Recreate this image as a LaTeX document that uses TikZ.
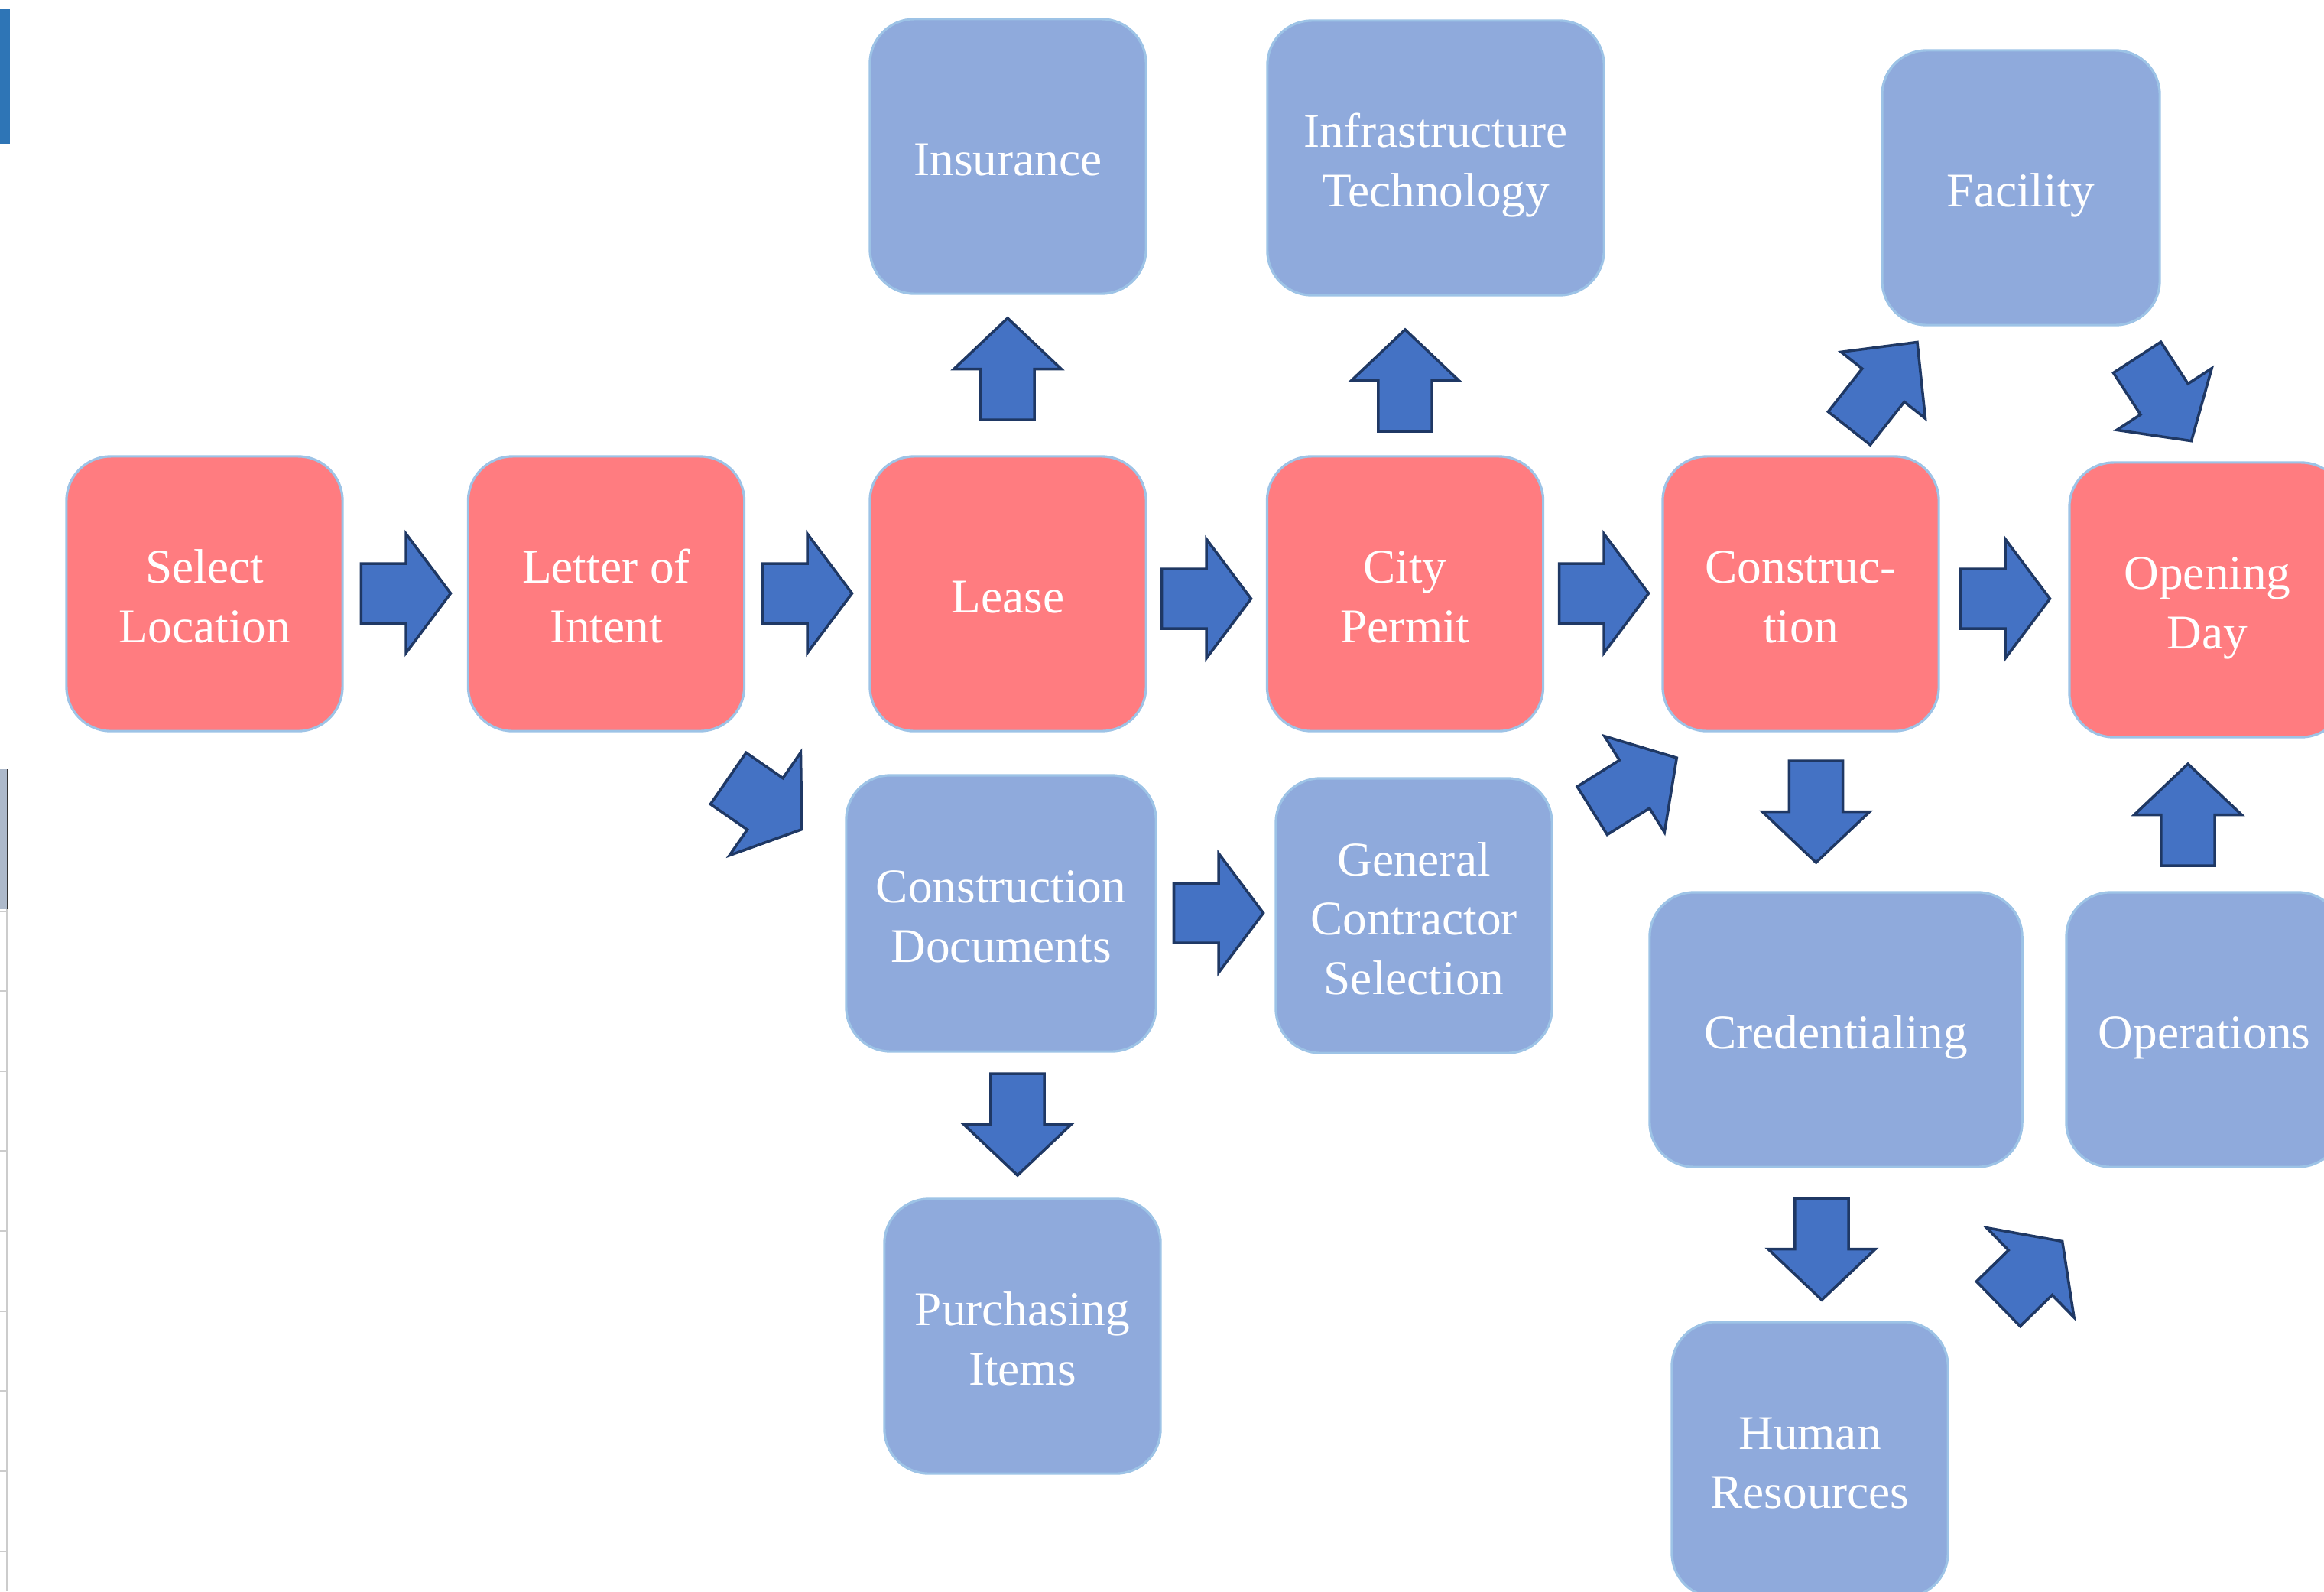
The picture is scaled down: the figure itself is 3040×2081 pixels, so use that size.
\documentclass[tikz,border=0pt]{standalone}
\usepackage{fontspec}
\setmainfont{Liberation Serif}
\usetikzlibrary{positioning}
\definecolor{stepred}{HTML}{FF7C80}
\definecolor{subblue}{HTML}{8FAADC}
\definecolor{rimblue}{HTML}{9DC3E6}
\definecolor{arrowfill}{HTML}{4472C4}
\definecolor{arrowrim}{HTML}{1F3864}
\definecolor{barblue}{HTML}{2E75B6}
\definecolor{bargrey}{HTML}{ADB9CA}
\tikzset{
	x=0.01cm, y=-0.01cm,
	box/.style={draw=rimblue, line width=0.9pt, rounded corners=0.58cm, text=white, align=center,
		inner sep=0pt, minimum width=3.61cm, minimum height=3.59cm, font=\fontsize{18}{22}\selectfont,
		text height=18.3pt, text depth=4pt},
	twolines/.style={text height=40.3pt},
	threelines/.style={text height=62.3pt},
	mainbox/.style={box, fill=stepred},
	sidebox/.style={box, fill=subblue},
	blockshape/.style={draw=arrowrim, fill=arrowfill, line width=1pt, line join=miter}
}
% block arrow: centre, angle, length factor, width factor
\newcommand{\blockarrow}[4]{
	\draw[blockshape, shift={#1}, rotate=#2, xscale=#3, yscale=#4]
		(-66.5,39) -- (0,39) -- (0,78) -- (66.5,0) -- (0,-78) -- (0,-39) -- (-66.5,-39) -- cycle;}

\begin{document}
\begin{tikzpicture}
	\useasboundingbox (0,0) rectangle (3040,2081);
	\clip (0,0) rectangle (3040,2081);

	% screen leftovers at the left edge
	\fill[barblue] (0,12) rectangle (13,188);
	\fill[bargrey] (0,1006) rectangle (10,1189);
	\draw[black!80, line width=0.8pt] (10,1006) -- (10,1189);
	\draw[gray!40, line width=0.5pt] (9,1189) -- (9,2081);
	\foreach \y in {1192,1296,1401,1505,1610,1715,1819,1924,2029}
		\draw[gray!40, line width=0.5pt] (0,\y) -- (9,\y);

	% main steps
	\node[mainbox, twolines] (sel) at (267.5,776.5) {Select\\Location};
	\node[mainbox, twolines] (loi) at (793,776.5) {Letter of\\Intent};
	\node[mainbox] (lease) at (1318.5,776.5) {Lease};
	\node[mainbox, twolines] (permit) at (1838,776.5) {City\\Permit};
	\node[mainbox, twolines] (constr) at (2355.5,776.5) {Construc-\\tion};
	\node[mainbox, twolines] (open) at (2887.5,784.5) {Opening\\Day};

	% side tasks
	\node[sidebox] (ins) at (1318.5,204.5) {Insurance};
	\node[sidebox, twolines, minimum width=4.4cm] (infra) at (1878,206.5) {Infrastructure\\Technology};
	\node[sidebox, minimum width=3.63cm] (fac) at (2643.5,245.5) {Facility};
	\node[sidebox, twolines, minimum width=4.05cm, minimum height=3.61cm] (cdocs) at (1309.5,1194.5) {Construction\\Documents};
	\node[sidebox, threelines] (gcsel) at (1849.5,1197.5) {General\\Contractor\\Selection};
	\node[sidebox, minimum width=4.87cm] (cred) at (2401.5,1346.5) {Credentialing};
	\node[sidebox] (ops) at (2883.5,1346.5) {Operations};
	\node[sidebox, twolines] (purch) at (1337.5,1747.5) {Purchasing\\Items};
	\node[sidebox, twolines, minimum height=3.6cm] (hr) at (2367.5,1909) {Human\\Resources};

	% arrows along the main row
	\blockarrow{(531,776)}{0}{0.88}{1}
	\blockarrow{(1056,776)}{0}{0.88}{1}
	\blockarrow{(1578,783)}{0}{0.88}{1}
	\blockarrow{(2098,776)}{0}{0.88}{1}
	\blockarrow{(2623,783)}{0}{0.88}{1}
	\blockarrow{(1594,1194)}{0}{0.88}{1}

	% arrows up and down
	\blockarrow{(1318,482.5)}{90}{1}{0.9}
	\blockarrow{(1838,497.5)}{90}{1}{0.9}
	\blockarrow{(2862,1065.5)}{90}{1}{0.9}
	\blockarrow{(2375.5,1061.5)}{-90}{1}{0.9}
	\blockarrow{(2383,1633.5)}{-90}{1}{0.9}
	\blockarrow{(1331,1470.5)}{-90}{1}{0.9}

	% slanted arrows
	\blockarrow{(1000.8,1051.3)}{-34.7}{0.88}{1.05}
	\blockarrow{(2138,1025.6)}{32}{0.98}{0.95}
	\blockarrow{(2463.4,503.8)}{51.7}{1.08}{0.9}
	\blockarrow{(2831,522)}{-57}{0.98}{0.95}
	\blockarrow{(2655.8,1664.3)}{44.3}{0.88}{1.05}
\end{tikzpicture}
\end{document}
